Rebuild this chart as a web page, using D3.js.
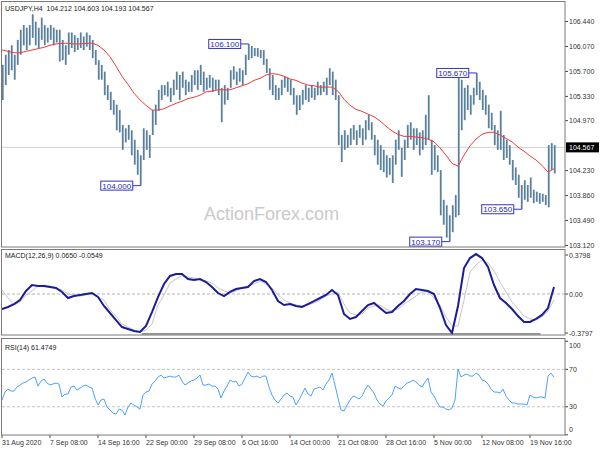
<!DOCTYPE html>
<html lang="en">

<head>
  <meta charset="utf-8">
  <title> USDJPY H4 </title>
  <script src="https://d3js.org/d3.v7.min.js"></script>
  <style>
    body {
      margin: 0;
      background: #fff;
    }

    svg text {
      font-family: "Liberation Sans", Arial, sans-serif;
    }
  </style>
</head>

<body>
  <script>
    // H4 bars, two bars per entry, starting 31 Aug 2020
    var barHigh = [105.79, 105.94, 106.01, 106.08, 105.94, 106.16, 106.31, 106.38, 106.34, 106.38,
      106.54, 106.43, 106.34, 106.49, 106.38, 106.34, 106.38, 106.34, 106.31, 106.31,
      106.16, 106.08, 106.27, 106.27, 106.23, 106.19, 106.27, 106.21, 106.27, 106.23,
      106.16, 106.01, 105.86, 105.79, 105.69, 105.49, 105.39, 105.27, 105.20, 105.12,
      104.90, 104.85, 104.90, 104.82, 104.68, 104.53, 104.45, 104.85, 104.82, 104.75,
      105.12, 105.20, 105.42, 105.49, 105.49, 105.54, 105.45, 105.57, 105.69, 105.64,
      105.69, 105.57, 105.54, 105.64, 105.71, 105.71, 105.79, 105.69, 105.60, 105.64,
      105.60, 105.57, 105.57, 105.45, 105.49, 105.45, 105.71, 105.77, 105.69, 105.74,
      105.71, 105.94, 106.10, 106.07, 106.04, 106.04, 106.01, 106.01, 105.88, 105.74,
      105.64, 105.49, 105.45, 105.57, 105.61, 105.60, 105.57, 105.45, 105.34, 105.34,
      105.42, 105.49, 105.45, 105.49, 105.45, 105.54, 105.49, 105.54, 105.60, 105.74,
      105.69, 105.57, 105.34, 104.75, 104.82, 104.75, 104.85, 104.90, 104.82, 104.90,
      104.85, 104.97, 105.05, 104.94, 104.75, 104.68, 104.60, 104.53, 104.45, 104.41,
      104.45, 104.68, 104.82, 104.56, 104.68, 104.90, 104.94, 104.85, 104.85, 104.79,
      104.82, 105.05, 105.34, 104.68, 104.60, 104.45, 104.23, 103.79, 103.71, 103.56,
      103.71, 103.86, 105.62, 105.57, 105.45, 105.49, 105.34, 105.45, 105.67, 105.54,
      105.42, 105.34, 105.20, 105.08, 104.90, 104.82, 105.11, 104.75, 104.68, 104.60,
      104.38, 104.27, 104.16, 104.01, 104.08, 104.01, 104.12, 103.94, 103.91, 103.89,
      103.88, 103.86, 104.60, 104.63, 104.60
    ];
    var barLow = [105.27, 105.49, 105.64, 105.71, 105.57, 105.79, 105.94, 106.08, 106.01, 106.08,
      106.19, 106.08, 106.04, 106.16, 106.08, 106.12, 106.16, 106.08, 106.12, 105.84,
      105.86, 105.79, 105.94, 106.04, 105.98, 106.01, 106.04, 106.01, 106.06, 106.01,
      105.89, 105.79, 105.57, 105.57, 105.34, 105.27, 105.12, 105.05, 104.82, 104.79,
      104.53, 104.64, 104.68, 104.45, 104.31, 104.16, 104.00, 104.38, 104.53, 104.41,
      104.75, 104.90, 105.11, 105.27, 105.34, 105.32, 105.24, 105.34, 105.42, 105.27,
      105.45, 105.34, 105.39, 105.39, 105.49, 105.42, 105.49, 105.39, 105.42, 105.45,
      105.39, 105.42, 105.34, 104.94, 105.20, 105.27, 105.45, 105.57, 105.49, 105.54,
      105.49, 105.64, 105.86, 105.89, 105.92, 105.91, 105.89, 105.79, 105.67, 105.42,
      105.34, 105.27, 105.27, 105.34, 105.45, 105.39, 105.34, 105.20, 105.05, 105.12,
      105.20, 105.27, 105.24, 105.30, 105.27, 105.34, 105.34, 105.39, 105.34, 105.49,
      105.34, 105.27, 104.60, 104.35, 104.53, 104.56, 104.60, 104.68, 104.60, 104.71,
      104.60, 104.68, 104.82, 104.68, 104.45, 104.31, 104.23, 104.20, 104.12, 104.16,
      104.04, 104.31, 104.53, 104.13, 104.38, 104.56, 104.68, 104.53, 104.60, 104.45,
      104.53, 104.60, 104.68, 104.16, 104.23, 104.20, 103.56, 103.42, 103.23, 103.17,
      103.31, 103.53, 103.56, 104.82, 104.97, 105.12, 105.05, 105.20, 105.34, 105.27,
      105.12, 105.05, 104.85, 104.82, 104.60, 104.53, 104.53, 104.38, 104.41, 104.31,
      104.08, 104.01, 103.82, 103.65, 103.79, 103.76, 103.82, 103.74, 103.76, 103.73,
      103.76, 103.71, 103.68, 104.23, 104.18
    ];

    // moving average, one point every 4 bars
    var maLine = [106.01, 105.99, 105.97, 105.97, 105.99, 106.01, 106.03, 106.05, 106.08, 106.10,
      106.11, 106.11, 106.10, 106.10, 106.11, 106.11, 106.08, 106.01, 105.91, 105.77,
      105.62, 105.50, 105.37, 105.27, 105.19, 105.12, 105.12, 105.14, 105.18, 105.22,
      105.25, 105.29, 105.31, 105.34, 105.39, 105.40, 105.42, 105.42, 105.42, 105.45,
      105.48, 105.51, 105.56, 105.59, 105.64, 105.66, 105.65, 105.62, 105.58, 105.56,
      105.52, 105.49, 105.48, 105.46, 105.46, 105.46, 105.40, 105.28, 105.19, 105.13,
      105.10, 105.06, 105.02, 104.96, 104.88, 104.81, 104.76, 104.73, 104.73, 104.72,
      104.71, 104.69, 104.65, 104.56, 104.45, 104.33, 104.29, 104.45, 104.59, 104.69,
      104.76, 104.79, 104.79, 104.75, 104.70, 104.65, 104.57, 104.51, 104.44, 104.38,
      104.30, 104.20, 104.25
    ];

    // MACD(12,26,9), one point every 4 bars
    var macdLine = [-0.139, -0.120, -0.093, -0.056, 0.028, 0.083, 0.074, 0.074, 0.065, 0.056,
      0.019, -0.037, -0.019, -0.009, 0.000, 0.009, -0.028, -0.111, -0.176, -0.241,
      -0.306, -0.324, -0.343, -0.352, -0.296, -0.167, -0.028, 0.093, 0.167, 0.185,
      0.185, 0.139, 0.130, 0.139, 0.111, 0.065, 0.009, -0.019, 0.019, 0.046,
      0.056, 0.065, 0.120, 0.139, 0.111, 0.037, -0.065, -0.102, -0.093, -0.111,
      -0.120, -0.093, -0.065, -0.037, -0.009, 0.037, -0.009, -0.185, -0.231, -0.213,
      -0.157, -0.102, -0.083, -0.130, -0.176, -0.167, -0.111, -0.065, 0.000, 0.046,
      0.037, 0.028, 0.000, -0.130, -0.287, -0.361, -0.111, 0.241, 0.333, 0.370,
      0.333, 0.250, 0.083, -0.037, -0.083, -0.139, -0.204, -0.259, -0.259, -0.231,
      -0.194, -0.130, 0.065
    ];
    var signalLine = [0.037, -0.037, -0.102, -0.074, -0.009, 0.028, 0.074, 0.083, 0.074, 0.056,
      0.037, 0.000, -0.009, -0.019, -0.009, 0.000, -0.028, -0.056, -0.148, -0.204,
      -0.278, -0.306, -0.333, -0.352, -0.333, -0.278, -0.102, -0.009, 0.102, 0.139,
      0.167, 0.157, 0.148, 0.130, 0.120, 0.102, 0.056, 0.028, 0.009, 0.028,
      0.056, 0.074, 0.093, 0.120, 0.093, 0.056, -0.009, -0.056, -0.083, -0.102,
      -0.111, -0.102, -0.083, -0.056, -0.019, 0.000, 0.019, -0.093, -0.176, -0.194,
      -0.185, -0.130, -0.111, -0.102, -0.139, -0.157, -0.139, -0.093, -0.056, -0.019,
      0.019, 0.019, -0.037, -0.102, -0.213, -0.296, -0.296, -0.056, 0.204, 0.269,
      0.315, 0.287, 0.213, 0.111, 0.019, -0.074, -0.139, -0.204, -0.231, -0.241,
      -0.213, -0.157, -0.055
    ];
    var macdTrendBars = [93, 359];
    var macdTrendValue = -0.37;

    // RSI(14), one point every 2 bars
    var rsiLine = [37.2, 45.7, 48.9, 46.8, 46.8, 51.1, 53.2, 55.4, 56.4, 58.6,
      60.7, 61.8, 52.1, 57.5, 59.6, 55.4, 53.2, 54.3, 55.4, 54.3,
      40.4, 43.6, 43.6, 51.1, 52.1, 47.9, 50.0, 52.1, 53.2, 51.1,
      50.0, 39.3, 31.8, 37.2, 38.2, 29.7, 26.5, 23.3, 22.2, 27.5,
      26.5, 21.1, 29.7, 34.0, 31.8, 29.7, 27.5, 42.5, 45.7, 46.8,
      54.3, 57.5, 61.8, 63.9, 60.7, 61.8, 62.8, 61.8, 61.8, 63.9,
      57.5, 53.2, 55.4, 57.5, 58.6, 60.7, 63.9, 53.2, 53.2, 54.3,
      52.1, 52.1, 48.9, 39.3, 46.8, 52.1, 58.6, 56.4, 57.5, 52.1,
      54.3, 60.7, 67.1, 62.8, 61.8, 62.8, 60.7, 62.8, 62.8, 51.1,
      42.5, 37.2, 34.0, 38.2, 42.5, 44.7, 41.4, 40.4, 31.8, 37.2,
      43.6, 50.0, 43.6, 41.4, 48.9, 50.0, 51.1, 47.9, 54.3, 58.6,
      66.0, 53.2, 39.3, 26.5, 25.4, 31.8, 37.2, 41.4, 40.4, 38.2,
      41.4, 47.9, 53.2, 48.9, 44.7, 37.2, 32.9, 30.8, 36.1, 39.3,
      42.5, 52.1, 50.0, 48.9, 52.1, 55.4, 56.4, 58.6, 56.4, 53.2,
      51.1, 56.4, 60.7, 45.7, 41.4, 35.0, 29.7, 29.7, 27.5, 26.5,
      28.6, 37.2, 70.3, 61.8, 63.9, 65.0, 62.8, 62.8, 66.0, 63.9,
      58.6, 57.5, 54.3, 48.9, 45.7, 45.7, 44.7, 48.9, 41.4, 37.2,
      34.0, 34.0, 32.9, 32.9, 32.9, 31.8, 42.5, 40.4, 39.3, 40.4,
      40.4, 39.3, 62.8, 66.0, 61.5
    ];

    // swing labels: entry index of the bar and price
    var swingBars = [82, 46, 149, 158, 173];
    var swingPrices = [106.10, 104.00, 103.17, 105.67, 103.65];

    var priceTicks = [106.44, 106.07, 105.70, 105.33, 104.97, 104.23, 103.86, 103.49, 103.12];
    var lastPrice = 104.567;
    var rsiTicks = [100, 70, 30, 0];
    var timeLabels = ["31 Aug 2020", "7 Sep 08:00", "14 Sep 16:00", "22 Sep 00:00", "29 Sep 08:00",
      "6 Oct 16:00", "14 Oct 00:00", "21 Oct 08:00", "28 Oct 16:00", "5 Nov 00:00",
      "12 Nov 08:00", "19 Nov 16:00"
    ];

    var left = 2,
      right = 565;
    var mainP = { top: 2, bottom: 247 },
      macdP = { top: 250, bottom: 335 },
      rsiP = { top: 339, bottom: 435 };

    var svg = d3.select("body").append("svg")
      .attr("width", 600)
      .attr("height", 450)
      .style("display", "block");

    // one unit = one H4 bar
    var x = d3.scaleLinear().domain([0, 368]).range([2, 554]);
    var yPrice = d3.scaleLinear().domain([103.12, 106.44]).range([245, 21]);
    var yMacd = d3.scaleLinear().domain([-0.3797, 0.3798]).range([335, 253]);
    var yRsi = d3.scaleLinear().domain([0, 100]).range([434.8, 341.3]);

    var defs = svg.append("defs");
    [["clipMain", mainP], ["clipMacd", macdP], ["clipRsi", rsiP]].forEach(function(c) {
      defs.append("clipPath").attr("id", c[0]).append("rect")
        .attr("x", left).attr("y", c[1].top)
        .attr("width", right - left).attr("height", c[1].bottom - c[1].top);
    });

    // ---- main panel ----
    svg.append("text")
      .attr("x", 204).attr("y", 220)
      .style("font-size", "18px")
      .attr("fill", "#cacaca")
      .text("ActionForex.com");

    var gMain = svg.append("g").attr("clip-path", "url(#clipMain)");

    gMain.append("line")
      .attr("x1", left).attr("x2", right)
      .attr("y1", yPrice(lastPrice)).attr("y2", yPrice(lastPrice))
      .attr("stroke", "#d2d2d2");

    gMain.selectAll(".bar")
      .data(barHigh)
      .enter().append("line")
      .attr("class", "bar")
      .attr("x1", function(d, k) { return x(2 * k + 0.5); })
      .attr("x2", function(d, k) { return x(2 * k + 0.5); })
      .attr("y1", function(d) { return yPrice(d); })
      .attr("y2", function(d, k) { return yPrice(barLow[k]); })
      .attr("stroke", "#5a809b")
      .attr("stroke-width", 1.8);

    gMain.append("path")
      .datum(maLine)
      .attr("fill", "none")
      .attr("stroke", "#f03c3c")
      .attr("stroke-width", 1)
      .attr("d", d3.line()
        .x(function(d, j) { return x(4 * j); })
        .y(function(d) { return yPrice(d); }));

    // swing labels
    var fmt3 = d3.format(".3f");
    swingBars.forEach(function(k, n) {
      var bx = x(2 * k + 0.5),
        by = yPrice(swingPrices[n]);
      svg.append("line")
        .attr("x1", bx - 8).attr("x2", bx)
        .attr("y1", by).attr("y2", by)
        .attr("stroke", "#3434c4");
      svg.append("rect")
        .attr("x", bx - 40).attr("y", by - 4.5)
        .attr("width", 32).attr("height", 9)
        .attr("fill", "#fff")
        .attr("stroke", "#3434c4");
      svg.append("text")
        .attr("x", bx - 24).attr("y", by + 3)
        .attr("text-anchor", "middle")
        .style("font-size", "8px")
        .attr("fill", "#2a2ab0")
        .text(fmt3(swingPrices[n]));
    });

    svg.append("text")
      .attr("x", 5).attr("y", 11)
      .style("font-size", "7px")
      .style("white-space", "pre")
      .attr("fill", "#222")
      .text("USDJPY,H4  104.212 104.603 104.193 104.567");

    // right price axis
    var gAxis = svg.append("g").attr("transform", "translate(" + right + ",0)")
      .call(d3.axisRight(yPrice).tickValues(priceTicks).tickSize(3).tickFormat(fmt3));
    gAxis.select(".domain").remove();
    gAxis.selectAll("line").attr("stroke", "#444");
    gAxis.selectAll("text").attr("x", 4).style("font-size", "7px")
      .style("font-family", "'Liberation Sans', Arial, sans-serif").attr("fill", "#333");

    svg.append("rect")
      .attr("x", right + 1).attr("y", yPrice(lastPrice) - 5)
      .attr("width", 33).attr("height", 10)
      .attr("fill", "#000");
    svg.append("text")
      .attr("x", right + 4).attr("y", yPrice(lastPrice) + 2.5)
      .style("font-size", "7px")
      .attr("fill", "#fff")
      .text(fmt3(lastPrice));

    // ---- MACD panel ----
    var gMacd = svg.append("g").attr("clip-path", "url(#clipMacd)");
    gMacd.append("line")
      .attr("x1", left).attr("x2", right)
      .attr("y1", yMacd(0)).attr("y2", yMacd(0))
      .attr("stroke", "#b4b4b4")
      .attr("stroke-dasharray", "3,2");
    gMacd.append("path")
      .datum(signalLine)
      .attr("fill", "none")
      .attr("stroke", "#c6c6c6")
      .attr("stroke-width", 1)
      .attr("d", d3.line()
        .x(function(d, j) { return x(4 * j); })
        .y(function(d) { return yMacd(d); }));
    gMacd.append("path")
      .datum(macdLine)
      .attr("fill", "none")
      .attr("stroke", "#1c1c98")
      .attr("stroke-width", 2)
      .attr("d", d3.line()
        .x(function(d, j) { return x(4 * j); })
        .y(function(d) { return yMacd(d); }));
    gMacd.append("line")
      .attr("x1", x(macdTrendBars[0])).attr("x2", x(macdTrendBars[1]))
      .attr("y1", yMacd(macdTrendValue)).attr("y2", yMacd(macdTrendValue))
      .attr("stroke", "#444");

    svg.append("text")
      .attr("x", 5).attr("y", 258)
      .style("font-size", "7px")
      .attr("fill", "#222")
      .text("MACD(12,26,9) 0.0650 -0.0549");

    [[0.3798, "0.3798", 255], [0, "0.00", yMacd(0)], [-0.3797, "-0.3797", 333]].forEach(function(t) {
      svg.append("line")
        .attr("x1", right).attr("x2", right + 3)
        .attr("y1", t[2]).attr("y2", t[2])
        .attr("stroke", "#444");
      svg.append("text")
        .attr("x", right + 4).attr("y", t[2] + 2.5)
        .style("font-size", "7px")
        .attr("fill", "#333")
        .text(t[1]);
    });

    // ---- RSI panel ----
    var gRsi = svg.append("g").attr("clip-path", "url(#clipRsi)");
    [70, 30].forEach(function(v) {
      gRsi.append("line")
        .attr("x1", left).attr("x2", right)
        .attr("y1", yRsi(v)).attr("y2", yRsi(v))
        .attr("stroke", "#c4c4c4")
        .attr("stroke-dasharray", "3,2");
    });
    gRsi.append("path")
      .datum(rsiLine)
      .attr("fill", "none")
      .attr("stroke", "#4aa3ff")
      .attr("stroke-width", 1)
      .attr("d", d3.line()
        .x(function(d, k) { return x(2 * k); })
        .y(function(d) { return yRsi(d); }));

    svg.append("text")
      .attr("x", 5).attr("y", 350)
      .style("font-size", "7px")
      .attr("fill", "#222")
      .text("RSI(14) 61.4749");

    rsiTicks.forEach(function(v) {
      var ty = Math.max(rsiP.top + 6, Math.min(rsiP.bottom - 6, yRsi(v)));
      svg.append("line")
        .attr("x1", right).attr("x2", right + 3)
        .attr("y1", yRsi(v)).attr("y2", yRsi(v))
        .attr("stroke", "#444");
      svg.append("text")
        .attr("x", right + 4).attr("y", ty + 2.5)
        .style("font-size", "7px")
        .attr("fill", "#333")
        .text(v);
    });

    // time axis
    timeLabels.forEach(function(t, n) {
      var tx = x(32 * n);
      svg.append("line")
        .attr("x1", tx).attr("x2", tx)
        .attr("y1", rsiP.bottom).attr("y2", rsiP.bottom + 3)
        .attr("stroke", "#444");
      svg.append("text")
        .attr("x", tx).attr("y", 445)
        .style("font-size", "7px")
        .attr("fill", "#333")
        .text(t);
    });

    // panel frames
    [mainP, macdP, rsiP].forEach(function(p) {
      svg.append("rect")
        .attr("x", left - 0.5).attr("y", p.top - 0.5)
        .attr("width", right - left + 0.5).attr("height", p.bottom - p.top + 0.5)
        .attr("fill", "none")
        .attr("stroke", "#7a7a7a");
    });
  </script>
</body>

</html>
